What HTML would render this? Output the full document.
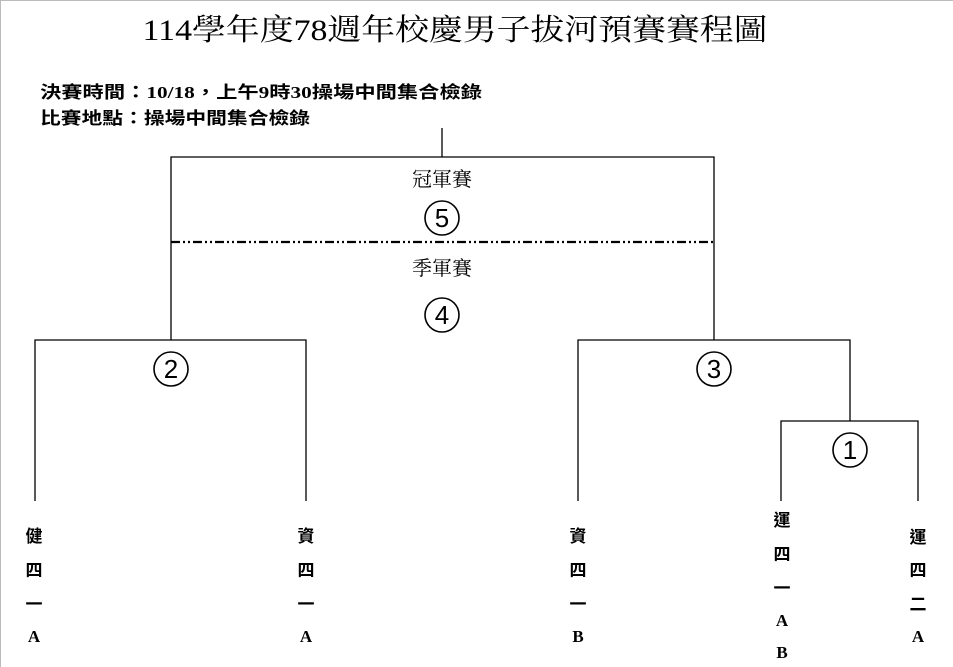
<!DOCTYPE html>
<html><head><meta charset="utf-8"><style>
html,body{margin:0;padding:0;background:#fff;width:953px;height:667px;overflow:hidden;}
svg{display:block;overflow:hidden;}
.s{font-family:"Liberation Serif","Noto Serif CJK SC","Noto Sans CJK TC",serif;}
.b{font-family:"Liberation Serif","Noto Sans CJK TC",serif;font-weight:bold;}
.n{font-family:"Liberation Sans",sans-serif;}
</style></head><body>
<svg width="953" height="667" viewBox="0 0 953 667" xmlns="http://www.w3.org/2000/svg">
<path d="M0.5 667V0.5H953" fill="none" stroke="#bbb"/>
<text class="s" x="455" y="40" font-size="30" text-anchor="middle" textLength="625" lengthAdjust="spacingAndGlyphs">114學年度78週年校慶男子拔河預賽賽程圖</text>
<text class="b" x="40" y="98" font-size="17" textLength="442" lengthAdjust="spacingAndGlyphs">決賽時間：10/18，上午9時30操場中間集合檢錄</text>
<text class="b" x="40" y="124" font-size="17" textLength="270" lengthAdjust="spacingAndGlyphs">比賽地點：操場中間集合檢錄</text>
<g stroke="#000" stroke-width="1.3" fill="none">
<path d="M442 128V157M171 340V157H714V340"/>
<path d="M35 501V340H306V501"/>
<path d="M578 501V340H850V421"/>
<path d="M781 501V421H918V501"/>
<path d="M171 242H714" stroke-width="2.2" stroke-dasharray="9 3 2 3 2 3"/>
</g>
<g stroke="#000" stroke-width="1.6" fill="none">
<circle cx="442" cy="218" r="17"/>
<circle cx="442" cy="315" r="17"/>
<circle cx="171" cy="369" r="17"/>
<circle cx="714" cy="369" r="17"/>
<circle cx="850" cy="450" r="17"/>
</g>
<g class="n" font-size="26" text-anchor="middle">
<text x="442" y="227">5</text><text x="442" y="324">4</text>
<text x="171" y="378">2</text><text x="714" y="378">3</text><text x="850" y="459">1</text>
</g>
<g class="s" font-size="20" text-anchor="middle">
<text x="442" y="186">冠軍賽</text><text x="442" y="275">季軍賽</text>
</g>
<g class="b" font-size="17" text-anchor="middle">
<text x="34" y="542">健</text><text x="34" y="576">四</text><text x="34" y="610">一</text><text x="34" y="642">A</text>
<text x="306" y="542">資</text><text x="306" y="576">四</text><text x="306" y="610">一</text><text x="306" y="642">A</text>
<text x="578" y="542">資</text><text x="578" y="576">四</text><text x="578" y="610">一</text><text x="578" y="642">B</text>
<text x="782" y="526">運</text><text x="782" y="560">四</text><text x="782" y="594">一</text><text x="782" y="626">A</text><text x="782" y="658">B</text>
<text x="918" y="543">運</text><text x="918" y="576">四</text><text x="918" y="610">二</text><text x="918" y="642">A</text>
</g>
</svg>
</body></html>
